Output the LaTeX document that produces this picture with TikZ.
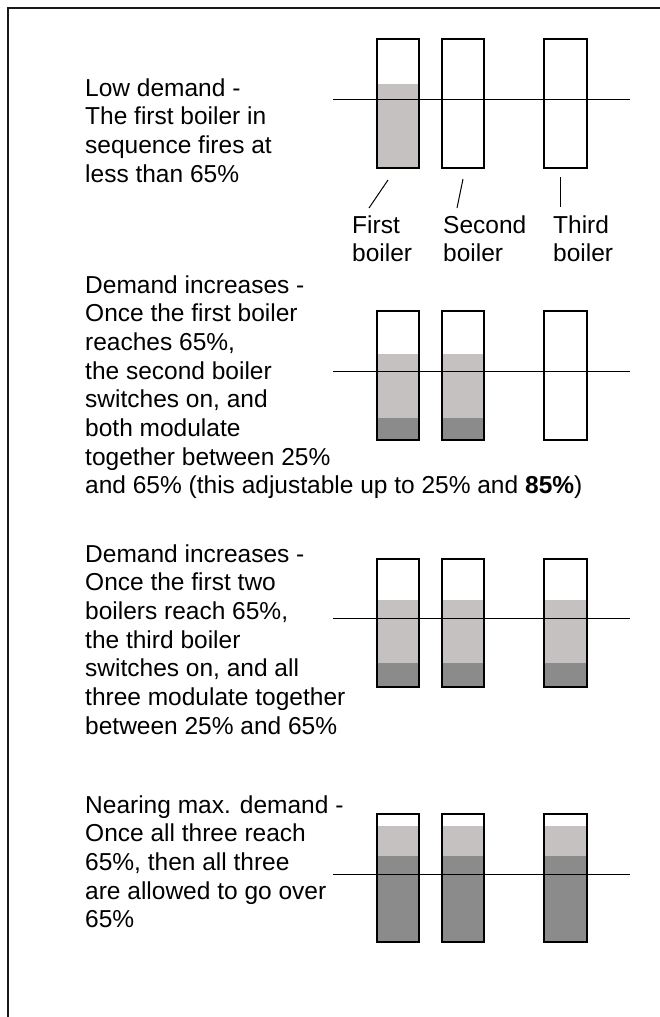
\documentclass[tikz,border=0pt]{standalone}
\usepackage{fontspec}
\setmainfont{Liberation Sans}
\definecolor{lightfill}{RGB}{196,193,192}
\definecolor{darkfill}{RGB}{139,139,139}
\tikzset{
  desc/.style={anchor=base west, inner sep=0pt, font=\fontsize{24.5}{28.7}\selectfont},
  boxborder/.style={draw=black, line width=2.4pt},
  levelline/.style={draw=black, line width=1pt},
  tickline/.style={draw=black, line width=1pt},
  borderline/.style={draw=black!90, line width=2.2pt},
}
\begin{document}
\begin{tikzpicture}[x=1pt,y=-1pt]
\useasboundingbox (0,0) rectangle (660,1017);
% outer frame (left and top edges)
\coordinate (fbl) at (8,1020);
\coordinate (ftl) at (8,8);
\coordinate (ftr) at (663,8);
\draw[borderline] (fbl) -- (ftl) -- (ftr);

% ---------- Row 1 ----------
\node[desc] (t1) at (85,96) {\vtop{\hbox{Low demand -}\hbox{The first boiler in}\hbox{sequence fires at}\hbox{less than 65\%}}};
\fill[lightfill] (377.2,84) rectangle (418.8,167.8);
\foreach \a/\b in {377.2/418.8,442.2/483.8,544.2/586.8}
  \draw[boxborder] (\a,39.2) rectangle (\b,167.8);
\coordinate (l1a) at (333,99);
\coordinate (l1b) at (630,99);
\draw[levelline] (l1a) -- (l1b);

\node[desc] (lab1) at (352,233) {\vtop{\hbox{First}\hbox{boiler}}};
\node[desc] (lab2) at (443,233) {\vtop{\hbox{Second}\hbox{boiler}}};
\node[desc] (lab3) at (553,233) {\vtop{\hbox{Third}\hbox{boiler}}};
\coordinate (k1a) at (388,180); \coordinate (k1b) at (369,208);
\coordinate (k2a) at (463,179); \coordinate (k2b) at (457,208);
\coordinate (k3a) at (560,177); \coordinate (k3b) at (560,207);
\draw[tickline] (k1a) -- (k1b);
\draw[tickline] (k2a) -- (k2b);
\draw[tickline] (k3a) -- (k3b);

% ---------- Row 2 ----------
\node[desc] (t2) at (85,293) {\vtop{\hbox{Demand increases -}\hbox{Once the first boiler}\hbox{reaches 65\%,}\hbox{the second boiler}\hbox{switches on, and}\hbox{both modulate}\hbox{together between 25\%}\hbox{and 65\% (this adjustable up to 25\% and \textbf{85\%})}}};
\foreach \a/\b in {377.2/418.8,442.2/483.8}{
  \fill[lightfill] (\a,354) rectangle (\b,439.8);
  \fill[darkfill] (\a,418) rectangle (\b,439.8);
}
\foreach \a/\b in {377.2/418.8,442.2/483.8,544.2/586.8}
  \draw[boxborder] (\a,311.2) rectangle (\b,439.8);
\coordinate (l2a) at (333,371);
\coordinate (l2b) at (630,371);
\draw[levelline] (l2a) -- (l2b);

% ---------- Row 3 ----------
\node[desc] (t3) at (85,562) {\vtop{\hbox{Demand increases -}\hbox{Once the first two}\hbox{boilers reach 65\%,}\hbox{the third boiler}\hbox{switches on, and all}\hbox{three modulate together}\hbox{between 25\% and 65\%}}};
\foreach \a/\b in {377.2/418.8,442.2/483.8,544.2/586.8}{
  \fill[lightfill] (\a,600) rectangle (\b,686.8);
  \fill[darkfill] (\a,663) rectangle (\b,686.8);
  \draw[boxborder] (\a,559.2) rectangle (\b,686.8);
}
\coordinate (l3a) at (333,618);
\coordinate (l3b) at (630,618);
\draw[levelline] (l3a) -- (l3b);

% ---------- Row 4 ----------
\node[desc] (t4) at (85,813) {\vtop{\hbox{Nearing max. demand -}\hbox{Once all three reach}\hbox{65\%, then all three}\hbox{are allowed to go over}\hbox{65\%}}};
\foreach \a/\b in {377.2/418.8,442.2/483.8,544.2/586.8}{
  \fill[lightfill] (\a,826) rectangle (\b,941.8);
  \fill[darkfill] (\a,856) rectangle (\b,941.8);
  \draw[boxborder] (\a,814.2) rectangle (\b,941.8);
}
\coordinate (l4a) at (333,874);
\coordinate (l4b) at (630,874);
\draw[levelline] (l4a) -- (l4b);
\end{tikzpicture}
\end{document}
